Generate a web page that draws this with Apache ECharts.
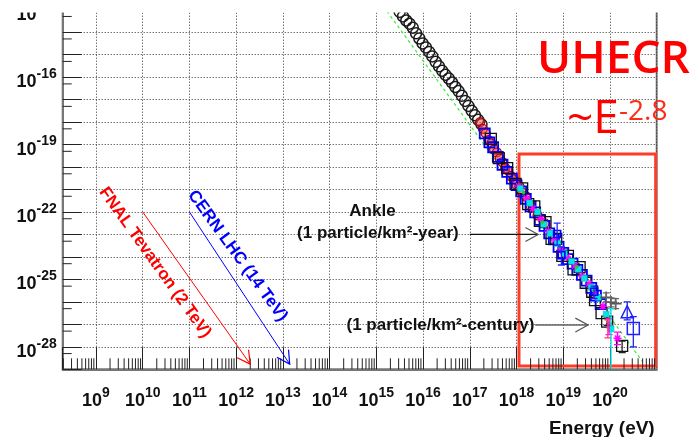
<!DOCTYPE html>
<html>
<head>
<meta charset="utf-8">
<script src="https://cdn.jsdelivr.net/npm/echarts@6/dist/echarts.min.js"></script>
<style>
  html, body { margin: 0; padding: 0; background: #fff; }
  #chart { width: 690px; height: 437px; }
</style>
</head>
<body>
<div id="chart"></div>
<script>
// ---- axis ranges (energy in eV, flux) ----
const energyRange = [1.94e8, 1e21];
const fluxRange = [1e-29, 1e-13];

// ---- measured spectrum: [energy (eV), flux] ----
// low-energy (knee) region, open circles
const kneeCircles = [
  [3.16e15, 7.94e-14], [3.72e15, 5.01e-14], [4.37e15, 3.31e-14], [5.13e15, 2.40e-14],
  [6.03e15, 1.58e-14], [7.08e15, 8.91e-15], [8.32e15, 5.25e-15], [9.77e15, 3.16e-15],
  [1.15e16, 2.09e-15], [1.35e16, 1.32e-15], [1.58e16, 8.32e-16], [1.86e16, 4.79e-16],
  [2.19e16, 3.02e-16], [2.57e16, 1.91e-16], [3.02e16, 1.26e-16], [3.55e16, 8.71e-17],
  [4.17e16, 5.75e-17], [4.90e16, 3.63e-17], [5.75e16, 2.40e-17], [6.76e16, 1.48e-17],
  [7.94e16, 8.71e-18], [9.33e16, 5.25e-18], [1.10e17, 3.16e-18], [1.29e17, 2.00e-18],
  [1.51e17, 1.26e-18], [1.78e17, 7.94e-19]
];
const redCircles = [
  [1.66e17, 1.00e-18], [1.91e17, 5.01e-19], [2.19e17, 3.16e-19], [2.51e17, 1.58e-19],
  [2.88e17, 1.12e-19], [3.31e17, 6.03e-20], [3.80e17, 4.47e-20], [4.37e17, 2.40e-20],
  [5.01e17, 1.66e-20], [5.75e17, 8.91e-21], [6.61e17, 7.08e-21], [7.59e17, 3.98e-21],
  [8.71e17, 2.82e-21], [1.00e18, 1.66e-21], [1.15e18, 1.41e-21], [1.32e18, 7.59e-22],
  [1.58e18, 5.01e-22], [2.00e18, 1.91e-22], [2.82e18, 7.08e-23], [3.98e18, 3.16e-23]
];
const blueSquares = [
  [2.09e17, 3.16e-19], [2.63e17, 1.26e-19], [3.16e17, 7.59e-20], [3.98e17, 2.82e-20],
  [5.01e17, 1.26e-20], [6.31e17, 6.03e-21], [7.94e17, 3.02e-21], [1.00e18, 1.58e-21],
  [1.26e18, 8.32e-22], [1.58e18, 3.80e-22], [2.00e18, 1.78e-22], [2.51e18, 9.55e-23],
  [3.16e18, 4.47e-23], [3.98e18, 2.40e-23], [5.01e18, 1.12e-23], [6.31e18, 6.03e-24],
  [7.94e18, 2.82e-24], [1.00e19, 1.51e-24], [1.26e19, 7.94e-25], [1.58e19, 5.01e-25],
  [2.00e19, 2.63e-25], [2.51e19, 1.58e-25], [3.16e19, 8.91e-26], [3.98e19, 4.17e-26],
  [5.01e19, 1.91e-26], [6.31e19, 7.94e-27]
];
const blackSquares = [
  [2.82e17, 1.78e-19], [4.17e17, 2.51e-20], [6.31e17, 8.91e-21], [9.55e17, 1.78e-21],
  [1.32e18, 1.12e-21], [1.78e18, 2.24e-22], [2.40e18, 1.78e-22], [3.16e18, 3.98e-23],
  [4.17e18, 3.55e-23], [5.62e18, 6.31e-24], [7.08e18, 6.31e-24], [9.55e18, 1.12e-24],
  [1.26e19, 1.12e-24], [1.66e19, 2.82e-25], [2.24e19, 3.55e-25], [3.02e19, 7.08e-26],
  [4.17e19, 2.82e-26], [4.79e19, 1.20e-26], [6.61e19, 3.16e-27], [8.71e19, 1.32e-27],
  [1.82e20, 1.10e-28]
];
const magentaStars = [
  [1.12e18, 1.41e-21], [1.66e18, 3.98e-22], [2.24e18, 1.41e-22], [3.31e18, 5.01e-23],
  [4.79e18, 1.41e-23], [6.61e18, 5.62e-24], [8.91e18, 2.00e-24], [1.20e19, 1.00e-24],
  [1.78e19, 3.98e-25], [2.51e19, 1.41e-25], [3.55e19, 6.31e-26], [5.01e19, 2.00e-26],
  [7.08e19, 6.31e-27], [9.55e19, 8.91e-28], [1.45e20, 2.40e-28]
];
const cyanMarks = [
  [1.20e18, 1.12e-21], [1.91e18, 2.51e-22], [2.82e18, 1.00e-22], [3.80e18, 2.82e-23],
  [5.25e18, 1.12e-23], [7.59e18, 3.98e-24], [1.05e19, 1.41e-24], [1.51e19, 6.31e-25],
  [2.09e19, 2.82e-25], [2.82e19, 1.12e-25], [3.98e19, 4.47e-26], [5.62e19, 1.58e-26],
  [8.32e19, 2.82e-27], [1.05e20, 6.31e-28]
];
const greenDots = [
  [1.41e18, 7.08e-22], [3.55e18, 3.55e-23], [8.32e18, 2.82e-24], [1.91e19, 3.55e-25],
  [4.47e19, 3.16e-26], [1.00e20, 1.12e-27]
];
const grayCrosses = [[8.32e19, 1.58e-26], [1.05e20, 9.55e-27], [1.32e20, 8.32e-27]];
const blueCrosses = [[7.41e18, 1.05e-23], [9.12e18, 1.20e-24], [4.57e19, 2.82e-26]];
const blueTriangle = [[2.34e20, 3.63e-27]];
const blueBigSquare = [[3.16e20, 6.61e-28]];

// ---- error bars: [energy, low flux, high flux] ----
const blueErrors = [
  [7.41e18, 3.39e-24, 3.16e-23], [9.12e18, 4.37e-25, 2.82e-24], [4.57e19, 1.41e-26, 5.01e-26],
  [2.34e20, 1.58e-27, 1.00e-26], [3.16e20, 1.00e-28, 2.19e-27]
];
const blackErrors = [[8.71e19, 8.90e-28, 1.90e-27], [1.82e20, 5.50e-29, 1.80e-28]];
const grayErrors = [[8.32e19, 1.00e-26, 2.50e-26], [1.05e20, 6.00e-27, 1.50e-26], [1.32e20, 5.00e-27, 1.40e-26]];
const magentaErrors = [[1.45e20, 1.26e-28, 4.47e-28], [9.55e19, 3.50e-28, 1.80e-27]];
const redErrors = [[9.00e19, 2.50e-28, 1.60e-27]];
const cyanErrors = [[1.05e20, 1.00e-30, 5.00e-27]];

// ---- reference power law E^-2.8 (end points) ----
const powerLaw = [[1.0e15, 3.8e-13], [5.01e20, 2.14e-29]];

// ---- collider energies and flux levels ----
const arrowFNAL = [[1e10, 1e-22], [2e12, 1.7e-29]];
const arrowLHC = [[1e11, 1e-22], [1.4e13, 1.7e-29]];
const arrowPerYear = [[1.0e17, 1.0e-23], [2.9e18, 1.0e-23]];
const arrowPerCentury = [[2.5e18, 9.3e-28], [3.4e19, 9.3e-28]];

// ---- UHECR region ----
const uhecrBox = [[1.13e18, 3.8e-20], [9.5e20, 1.4e-29]];

// ---- helpers ----
const lg = Math.log10;
const toLog = pts => pts.map(p => [lg(p[0]), lg(p[1])]);
const LX = [lg(energyRange[0]), lg(energyRange[1])];
const LY = [lg(fluxRange[0]), lg(fluxRange[1])];
const FONT = 'Liberation Sans, Arial, sans-serif';

// minor ticks at 2..9 x 10^n along energy, at 5 x 10^n along flux
const xMinor = [];
for (let d = 8; d <= 20; d++) for (let k = 2; k <= 9; k++) {
  const v = k * Math.pow(10, d);
  if (v > energyRange[0] && v < energyRange[1]) xMinor.push(v);
}
const yMinor = [];
for (let d = -29; d < -13; d++) yMinor.push(5 * Math.pow(10, d));

const powerLabel = v => {
  const n = Math.round(v);
  return Math.abs(v - n) > 1e-6 ? null : n;
};
const richPow = {
  b: { fontSize: 18, fontWeight: 'bold', fontFamily: FONT, color: '#111', padding: [10, 0, 0, 0] },
  s: { fontSize: 14, fontWeight: 'bold', fontFamily: FONT, color: '#111', padding: [0, 0, 6, 0] }
};

function scatter(data, symbol, size, style, z) {
  return {
    type: 'scatter', data: toLog(data), symbol: symbol, symbolSize: size,
    itemStyle: Object.assign({ opacity: 1 }, style), silent: true, z: z || 4, clip: true
  };
}
function errorBars(data, color) {
  return {
    type: 'custom', silent: true, z: 5, clip: true,
    data: data.map(e => [lg(e[0]), lg(e[1]), lg(e[2])]),
    renderItem: (params, api) => {
      const a = api.coord([api.value(0), api.value(2)]);
      const b = api.coord([api.value(0), api.value(1)]);
      const st = { stroke: color, lineWidth: 1.3 };
      return { type: 'group', children: [
        { type: 'line', shape: { x1: a[0], y1: a[1], x2: b[0], y2: b[1] }, style: st },
        { type: 'line', shape: { x1: a[0] - 3.5, y1: a[1], x2: a[0] + 3.5, y2: a[1] }, style: st },
        { type: 'line', shape: { x1: b[0] - 3.5, y1: b[1], x2: b[0] + 3.5, y2: b[1] }, style: st }
      ] };
    }
  };
}
function arrow(pts, lineColor, headColor, width) {
  return {
    type: 'custom', silent: true, z: 6,
    data: [[lg(pts[0][0]), lg(pts[0][1]), lg(pts[1][0]), lg(pts[1][1])]],
    renderItem: (params, api) => {
      const p1 = api.coord([api.value(0), api.value(1)]);
      const p2 = api.coord([api.value(2), api.value(3)]);
      const ang = Math.atan2(p2[1] - p1[1], p2[0] - p1[0]);
      const L = 14.5, H = 0.5;
      const w1 = [p2[0] - L * Math.cos(ang - H), p2[1] - L * Math.sin(ang - H)];
      const w2 = [p2[0] - L * Math.cos(ang + H), p2[1] - L * Math.sin(ang + H)];
      return { type: 'group', children: [
        { type: 'line', shape: { x1: p1[0], y1: p1[1], x2: p2[0], y2: p2[1] }, style: { stroke: lineColor, lineWidth: width } },
        { type: 'polyline', shape: { points: [w1, p2, w2] }, style: { stroke: headColor, lineWidth: 1.2, fill: null } }
      ] };
    }
  };
}
function minorTicks(values, horizontal, len) {
  return {
    type: 'custom', silent: true, z: 3,
    data: values.map(v => horizontal ? [lg(v), LY[0]] : [LX[0], lg(v)]),
    renderItem: (params, api) => {
      const p = api.coord([api.value(0), api.value(1)]);
      const shape = horizontal
        ? { x1: p[0], y1: p[1], x2: p[0], y2: p[1] - len }
        : { x1: p[0], y1: p[1], x2: p[0] + len, y2: p[1] };
      return { type: 'line', shape: shape, style: { stroke: '#222', lineWidth: 1 } };
    }
  };
}

// text annotations anchored in data space
const annotations = [
  { text: 'FNAL Tevatron (2 TeV)', at: [1.83e10, 5.62e-25], color: '#ff0000', rotate: -54.5 },
  { text: 'CERN LHC (14 TeV)', at: [1.07e12, 1.12e-24], color: '#0000ff', rotate: -54 },
  { text: 'Ankle', at: [8.26e14, 1.10e-22], color: '#111', rotate: 0 },
  { text: '(1 particle/km²-year)', at: [1.08e15, 1.12e-23], color: '#111', rotate: 0 },
  { text: '(1 particle/km²-century)', at: [2.36e16, 9.33e-28], color: '#111', rotate: 0 }
];

const gridLine = { show: true, lineStyle: { color: '#333', width: 1, type: [1, 2] } };

const chart = echarts.init(document.getElementById('chart'), null, { renderer: 'canvas' });
chart.setOption({
  animation: false,
  backgroundColor: '#fff',
  grid: {
    left: 62.7, right: 33.3, top: 9.7, bottom: 67.7,
    containLabel: false, outerBoundsMode: 'none',
    show: true, borderColor: '#777', borderWidth: 2
  },
  xAxis: {
    type: 'value', min: LX[0], max: LX[1], minInterval: 1, maxInterval: 1, splitNumber: 13,
    axisLine: { show: true, lineStyle: { color: '#777', width: 2 } },
    axisTick: { show: true, inside: true, length: 22, lineStyle: { color: '#222', width: 1 } },
    axisLabel: {
      show: true, margin: 13, showMaxLabel: false,
      formatter: v => { const n = powerLabel(v); return n === null ? '' : '{b|10}{s|' + n + '}'; },
      rich: richPow
    },
    splitLine: gridLine,
    name: 'Energy (eV)', nameLocation: 'end', nameGap: 0,
    nameTextStyle: { fontFamily: FONT, fontWeight: 'bold', fontSize: 19, color: '#111',
      align: 'right', verticalAlign: 'top', padding: [50, 2, 0, 0] }
  },
  yAxis: {
    type: 'value', min: LY[0], max: LY[1], minInterval: 1, maxInterval: 1, splitNumber: 16,
    axisLine: { show: true, lineStyle: { color: '#777', width: 2 } },
    axisTick: { show: true, inside: true, length: 19, lineStyle: { color: '#222', width: 1 } },
    axisLabel: {
      show: true, margin: 6,
      formatter: v => { const n = powerLabel(v); return (n === null || (n + 28) % 3 !== 0) ? '' : '{b|10}{s|' + n + '}'; },
      rich: richPow
    },
    splitLine: gridLine
  },
  graphic: [
    { type: 'rect', z: 100, shape: { x: 0, y: 0, width: 690, height: 12.5 }, style: { fill: '#fff' } },
    { type: 'text', z: 101, style: { text: 'UHECR', x: 537, y: 60, fill: '#ff0000',
      font: '600 46px "Open Sans", sans-serif', textAlign: 'left', textVerticalAlign: 'middle' } },
    { type: 'text', z: 101, style: { text: '~E', x: 567, y: 120, fill: '#ff0000',
      font: '400 46px "Open Sans", sans-serif', textAlign: 'left', textVerticalAlign: 'middle' } },
    { type: 'text', z: 101, style: { text: '-2.8', x: 619, y: 112, fill: '#ff2a1a',
      font: '400 28px "Open Sans", sans-serif', textAlign: 'left', textVerticalAlign: 'middle' } }
  ],
  series: [
    minorTicks(xMinor, true, 11),
    minorTicks(yMinor, false, 9),
    {
      type: 'line', data: toLog(powerLaw), symbol: 'none', silent: true, z: 2, clip: true,
      lineStyle: { color: '#33ee33', width: 1.2, type: [3, 3] },
      markArea: {
        silent: true,
        itemStyle: { color: 'transparent', borderColor: '#ff3c28', borderWidth: 3 },
        label: { show: false },
        data: [[{ coord: [lg(uhecrBox[0][0]), lg(uhecrBox[0][1])] }, { coord: [lg(uhecrBox[1][0]), lg(uhecrBox[1][1])] }]]
      }
    },
    scatter(kneeCircles, 'circle', 11, { color: 'transparent', borderColor: '#1a1a1a', borderWidth: 1.5 }),
    scatter(redCircles, 'circle', 9, { color: 'rgba(255,70,70,0.5)', borderColor: '#b00000', borderWidth: 1.3 }),
    scatter(blueSquares, 'rect', 10, { color: 'transparent', borderColor: '#0000ff', borderWidth: 1.8 }),
    scatter(blackSquares, 'rect', 11, { color: 'transparent', borderColor: '#111', borderWidth: 1.3 }),
    scatter(magentaStars, 'path://M5,0L5,10M0,5L10,5M1.5,1.5L8.5,8.5M8.5,1.5L1.5,8.5', 8, { color: 'transparent', borderColor: '#ff00ff', borderWidth: 1.4 }),
    scatter(cyanMarks, 'rect', 6, { color: '#00e5e5', borderColor: '#00b8b8', borderWidth: 0.5 }),
    scatter(greenDots, 'circle', 3.5, { color: '#22cc22' }),
    scatter(grayCrosses, 'path://M5,0L5,10M0,5L10,5', 12, { color: 'transparent', borderColor: '#555', borderWidth: 1.6 }),
    scatter(blueCrosses, 'rect', 7, { color: 'transparent', borderColor: '#0000ff', borderWidth: 1.6 }),
    scatter(blueTriangle, 'triangle', 12, { color: 'transparent', borderColor: '#2020ff', borderWidth: 1.5 }),
    scatter(blueBigSquare, 'rect', 12, { color: 'transparent', borderColor: '#2020ff', borderWidth: 1.5 }),
    errorBars(blueErrors, '#2020ff'),
    errorBars(blackErrors, '#222'),
    errorBars(grayErrors, '#666'),
    errorBars(magentaErrors, '#ff00ff'),
    errorBars(redErrors, '#ff4060'),
    errorBars(cyanErrors, '#00e0e0'),
    arrow(arrowFNAL, '#ff0000', '#ff0000', 1),
    arrow(arrowLHC, '#0000ff', '#0000ff', 1),
    arrow(arrowPerYear, '#111', '#555', 1.3),
    arrow(arrowPerCentury, '#666', '#555', 1.6),
    {
      type: 'scatter', silent: true, z: 7, symbolSize: 0,
      itemStyle: { opacity: 1 },
      data: annotations.map(a => ({
        value: [lg(a.at[0]), lg(a.at[1])],
        label: { show: true, position: [0, 0], align: 'center', verticalAlign: 'middle',
          formatter: a.text, rotate: a.rotate, opacity: 1, textBorderWidth: 0,
          color: a.color, fontFamily: FONT, fontWeight: 'bold', fontSize: 17 }
      }))
    }
  ]
});
</script>
</body>
</html>
